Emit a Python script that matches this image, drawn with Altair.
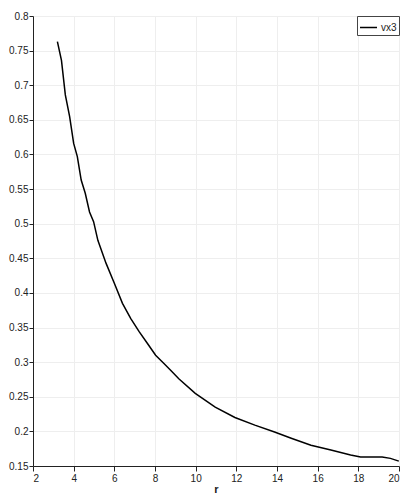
import altair as alt
import pandas as pd

r_vals = [3.20, 3.40, 3.59, 3.80, 4.0, 4.18, 4.37, 4.57, 4.78, 4.98, 5.19, 5.59, 6.0, 6.40,
          6.81, 7.22, 7.63, 8.03, 8.44, 8.84, 9.17, 9.98, 10.96, 11.93, 12.91, 13.88, 14.70,
          15.67, 16.65, 17.62, 18.11, 19.17, 19.58, 19.99]
vx3 = [0.763, 0.736, 0.686, 0.655, 0.616, 0.597, 0.563, 0.544, 0.517, 0.503, 0.476, 0.443,
       0.414, 0.385, 0.363, 0.344, 0.327, 0.310, 0.298, 0.286, 0.276, 0.255, 0.235, 0.220,
       0.209, 0.199, 0.190, 0.180, 0.173, 0.166, 0.163, 0.163, 0.161, 0.157]
series = ["vx3"] * len(r_vals)

x_ticks = [2, 4, 6, 8, 10, 12, 14, 16, 18, 20]
y_ticks = [0.15, 0.2, 0.25, 0.3, 0.35, 0.4, 0.45, 0.5, 0.55, 0.6, 0.65, 0.7, 0.75, 0.8]

df = pd.DataFrame({"r": r_vals, "v": vx3, "s": series})

font = "Liberation Sans, Arial, sans-serif"

chart = alt.Chart(df).mark_line(color="black", strokeWidth=1.5).encode(
    x=alt.X("r:Q", scale=alt.Scale(domain=[2, 20], nice=False, zero=False),
            axis=alt.Axis(values=x_ticks, title="r", format="~g", tickSize=5,
                          labelPadding=2, titleBaseline="alphabetic", titleY=26)),
    y=alt.Y("v:Q", scale=alt.Scale(domain=[0.15, 0.8], nice=False, zero=False),
            axis=alt.Axis(values=y_ticks, title=None, format="~g", tickSize=4,
                          labelPadding=1)),
    color=alt.Color("s:N", scale=alt.Scale(range=["black"]),
                    legend=alt.Legend(title=None, orient="top-right", offset=0,
                                      symbolType="stroke", symbolSize=289,
                                      symbolStrokeWidth=1.5, labelFontSize=10,
                                      labelFont=font, labelOffset=3,
                                      padding=2, strokeColor="#444444",
                                      fillColor="white", labelColor="#222222")),
).properties(
    width=366, height=450,
    autosize=alt.AutoSizeParams(type="none"),
    padding={"left": 25, "top": 8, "right": 8, "bottom": 28},
).configure_view(stroke=None).configure_axis(
    labelFont=font, labelFontSize=10, labelColor="#222222",
    titleFont=font, titleFontSize=11, titleFontWeight="bold", titleColor="#222222",
    domainColor="#222222", tickColor="#222222",
    gridColor="#eeeeee", gridWidth=1,
)

chart.save("out.html", embed_options={"renderer": "svg", "actions": False})
